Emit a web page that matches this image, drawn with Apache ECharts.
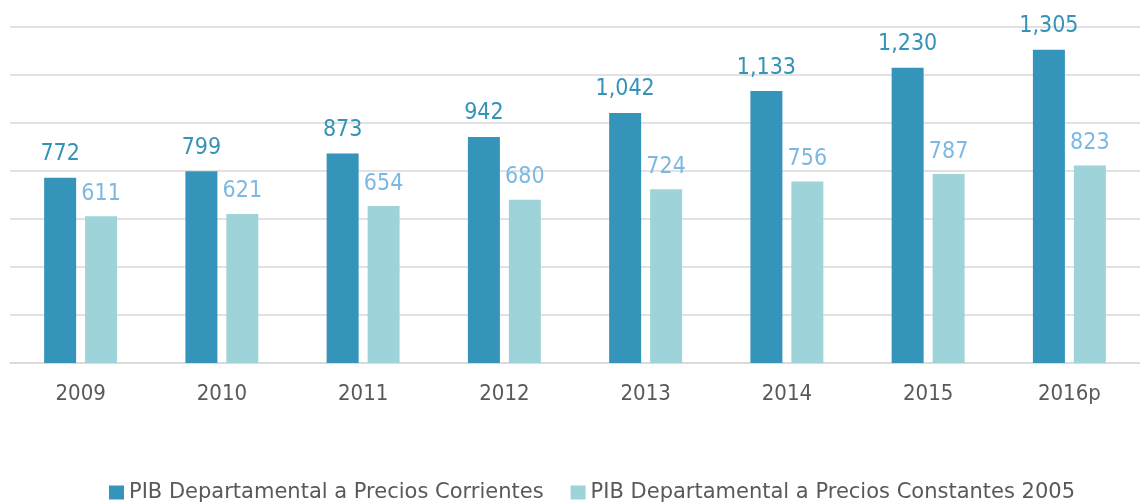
<!DOCTYPE html>
<html>
<head>
<meta charset="utf-8">
<script src="https://cdn.jsdelivr.net/npm/echarts@6/dist/echarts.min.js"></script>
<style>
  html, body { margin: 0; padding: 0; background: #fff; }
  #chart { width: 1140px; height: 504px; }
</style>
</head>
<body>
<div id="chart"></div>
<script>
const years = ["2009", "2010", "2011", "2012", "2013", "2014", "2015", "2016p"];
const corrientes = [772, 799, 873, 942, 1042, 1133, 1230, 1305];
const constantes = [611, 621, 654, 680, 724, 756, 787, 823];

const NUM_FONT = "'DejaVu Sans Condensed', 'DejaVu Sans'";
const TXT_FONT = "'DejaVu Sans'";
const chart = echarts.init(document.getElementById("chart"), null, { renderer: "canvas" });

const fmt = (p) => p.value.toLocaleString("en-US");

chart.setOption({
  animation: false,
  grid: { left: 10, top: 27, width: 1144, height: 336, containLabel: false },
  legend: {
    top: 477,
    left: 104,
    itemWidth: 15,
    itemHeight: 14,
    itemGap: 27,
    icon: "rect",
    textStyle: { fontFamily: TXT_FONT, fontSize: 21, color: "#595959" },
    data: ["PIB Departamental a Precios Corrientes", "PIB Departamental a Precios Constantes 2005"]
  },
  xAxis: {
    type: "category",
    data: years,
    axisLine: { lineStyle: { color: "#d9d9d9", width: 1.5 } },
    axisTick: { show: false },
    axisLabel: { fontFamily: NUM_FONT, fontSize: 22, color: "#595959", margin: 20 }
  },
  yAxis: {
    type: "value",
    min: 0,
    max: 1400,
    interval: 200,
    axisLabel: { show: false },
    axisLine: { show: false },
    axisTick: { show: false },
    splitLine: { lineStyle: { color: "#d9d9d9", width: 1.5 } }
  },
  series: [
    {
      name: "PIB Departamental a Precios Corrientes",
      type: "bar",
      data: corrientes,
      barWidth: 32,
      barGap: "28%",
      itemStyle: { color: "#3594ba" },
      label: {
        show: true,
        position: "top",
        distance: 12,
        formatter: fmt,
        fontFamily: NUM_FONT,
        fontSize: 23,
        color: "#3592b8"
      }
    },
    {
      name: "PIB Departamental a Precios Constantes 2005",
      type: "bar",
      data: constantes,
      barWidth: 32,
      itemStyle: { color: "#9ed4d9" },
      label: {
        show: true,
        position: "top",
        distance: 11,
        formatter: fmt,
        fontFamily: NUM_FONT,
        fontSize: 23,
        color: "#7db8e2"
      }
    }
  ]
});
</script>
</body>
</html>
